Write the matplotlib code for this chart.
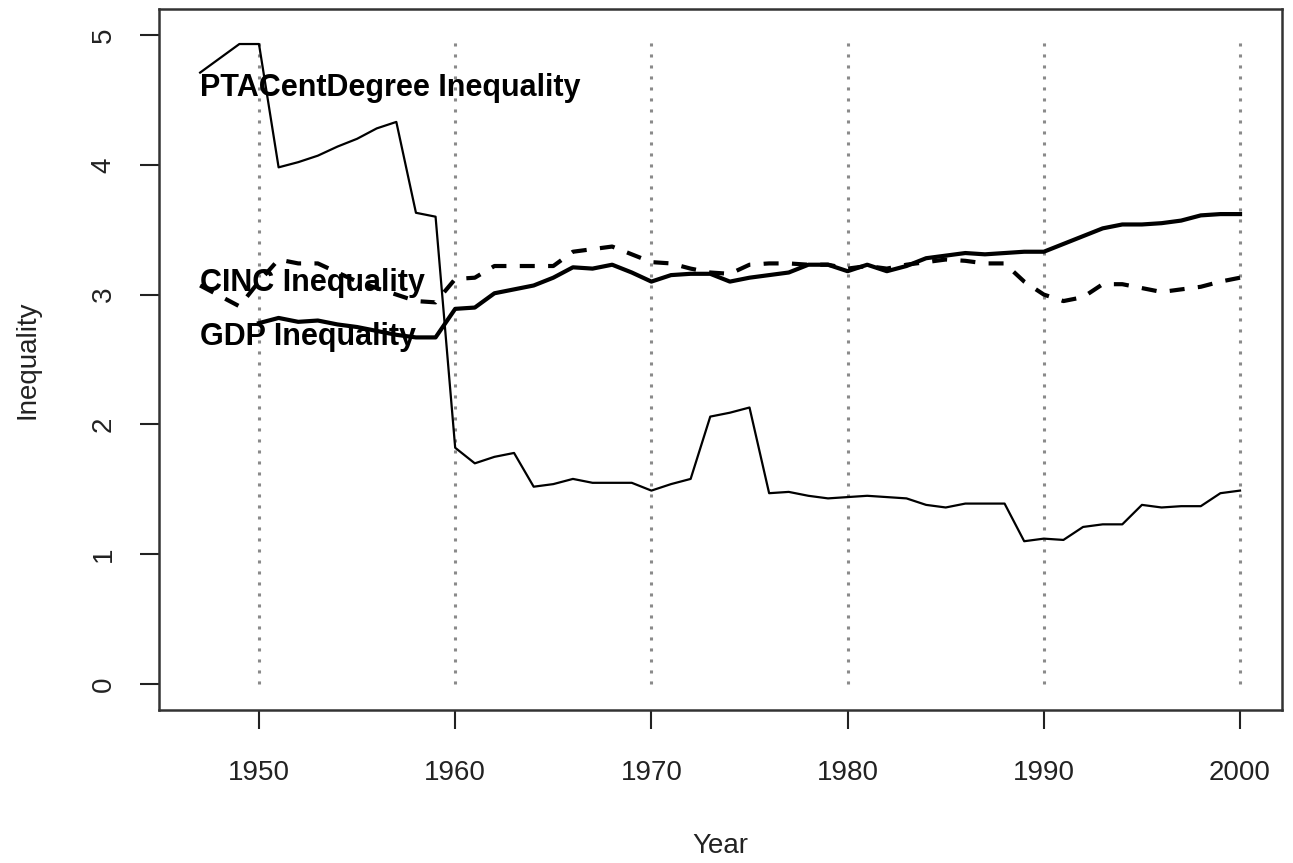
import matplotlib
matplotlib.use("Agg")
import matplotlib.pyplot as plt

plt.rcParams['font.family'] = ['Liberation Sans', 'DejaVu Sans']

years = list(range(1947, 2001))
gdp_years = list(range(1950, 2001))

# PTA centrality degree inequality (thin solid)
pta = [4.71, 4.82, 4.93, 4.93, 3.98, 4.02, 4.07, 4.14, 4.20, 4.28,
       4.33, 3.63, 3.60, 1.82, 1.70, 1.75, 1.78, 1.52, 1.54, 1.58,
       1.55, 1.55, 1.55, 1.49, 1.54, 1.58, 2.06, 2.09, 2.13, 1.47,
       1.48, 1.45, 1.43, 1.44, 1.45, 1.44, 1.43, 1.38, 1.36, 1.39,
       1.39, 1.39, 1.10, 1.12, 1.11, 1.21, 1.23, 1.23, 1.38, 1.36,
       1.37, 1.37, 1.47, 1.49]

# GDP inequality (thick solid), starts 1950
gdp = [2.78, 2.82, 2.79, 2.80, 2.77, 2.75, 2.72, 2.69, 2.67, 2.67,
       2.89, 2.90, 3.01, 3.04, 3.07, 3.13, 3.21,
       3.20, 3.23, 3.17, 3.10, 3.15, 3.16, 3.16, 3.10, 3.13, 3.15,
       3.17, 3.23, 3.23, 3.18, 3.23, 3.18, 3.22, 3.28, 3.30, 3.32,
       3.31, 3.32, 3.33, 3.33, 3.39, 3.45, 3.51, 3.54, 3.54, 3.55,
       3.57, 3.61, 3.62, 3.62]

# CINC inequality (thick dashed)
cinc = [3.07, 2.99, 2.91, 3.10, 3.27, 3.24, 3.24, 3.17, 3.10, 3.05,
        3.00, 2.95, 2.94, 3.12, 3.13, 3.22, 3.22, 3.22, 3.22, 3.33,
        3.35, 3.37, 3.31, 3.25, 3.24, 3.20, 3.17, 3.16, 3.23, 3.24,
        3.24, 3.23, 3.23, 3.20, 3.22, 3.20, 3.23, 3.25, 3.27, 3.26,
        3.24, 3.24, 3.10, 3.00, 2.95, 2.98, 3.08, 3.08, 3.05, 3.02,
        3.04, 3.06, 3.10, 3.13]

decades = [1950, 1960, 1970, 1980, 1990, 2000]

fig = plt.figure(figsize=(12.93, 8.63), dpi=100)
ax = fig.add_axes([0.1226, 0.1773, 0.9912 - 0.1226, 0.9896 - 0.1773])

# dotted decade guides
ax.vlines(decades, 0, 5, colors="#8a8a8a", linestyles=(0, (1, 2.6)), linewidth=2.2)

ax.plot(years, pta, color="black", linewidth=1.6)
ax.plot(gdp_years, gdp, color="black", linewidth=3)
ax.plot(years, cinc, color="black", linewidth=3, linestyle=(0, (3.6, 3.2)))

ax.text(1947, 4.59, "PTACentDegree Inequality", fontsize=22, fontweight="bold",
        va="center", ha="left")
ax.text(1947, 3.09, "CINC Inequality", fontsize=22, fontweight="bold",
        va="center", ha="left")
ax.text(1947, 2.67, "GDP Inequality", fontsize=22, fontweight="bold",
        va="center", ha="left")

# R-like axes
ax.set_xlim(1947 - 0.04 * 53, 2000 + 0.04 * 53)
ax.set_ylim(-0.2, 5.2)
ax.set_xticks(decades)
ax.set_yticks([0, 1, 2, 3, 4, 5])
ax.tick_params(axis="both", direction="out", length=14, width=1.5,
               labelsize=20, colors="#222222", pad=16)
ax.tick_params(axis="x", pad=22)
for lab in ax.get_yticklabels():
    lab.set_rotation(90)
    lab.set_va("center")
for s in ax.spines.values():
    s.set_linewidth(1.8)
    s.set_color("#333333")

ax.set_xlabel("Year", fontsize=20, labelpad=34, color="#222222")
ax.set_ylabel("Inequality", fontsize=20, labelpad=36, color="#222222")

fig.savefig("out.png", dpi=100)
